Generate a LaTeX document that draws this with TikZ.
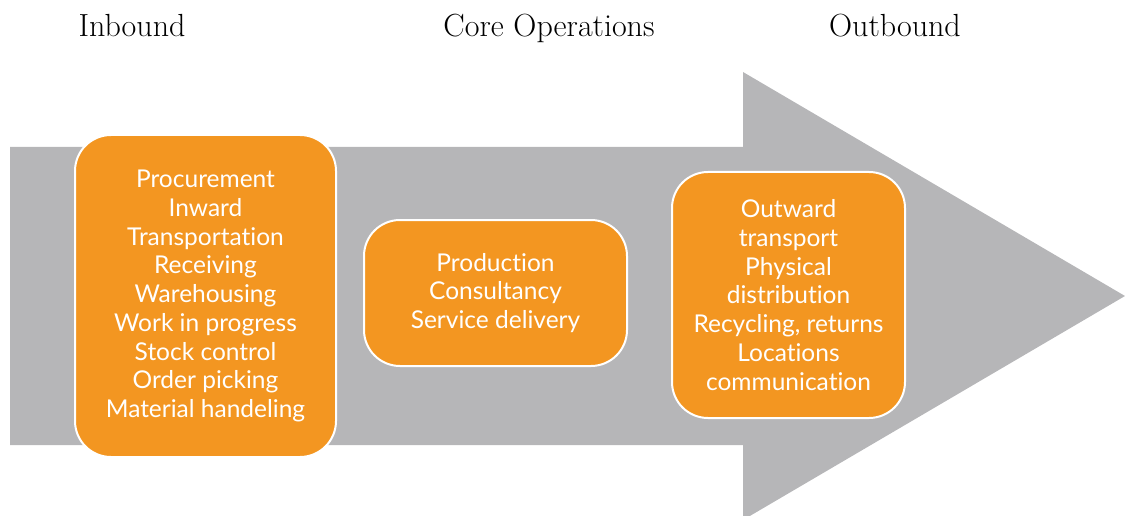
\documentclass[tikz,border=0pt]{standalone}
\usepackage{fontspec}
\setsansfont{Lato}[Ligatures=NoCommon]
\usetikzlibrary{positioning}
\definecolor{boxorange}{RGB}{243,150,33}
\definecolor{arrowgray}{RGB}{182,182,184}
\tikzset{
  stagebox/.style={draw=white, line width=2pt, fill=boxorange, rounded corners=36pt,
    align=center, text=white, inner sep=0pt,
    font=\sffamily\fontsize{24.5}{28.75}\selectfont},
  stagetitle/.style={anchor=base, text=black, font=\fontsize{32}{38}\selectfont}
}

\begin{document}
\begin{tikzpicture}[x=1pt,y=-1pt]
\useasboundingbox (0,0) rectangle (1125,516);

% big grey arrow
\fill[arrowgray] (10,147) -- (743,147) -- (743,72) -- (1125,296)
  -- (743,520) -- (743,445) -- (10,445) -- cycle;

% titles
\node[stagetitle] (InTitle) at (132,37) {Inbound};
\node[stagetitle] (CoreTitle) at (549,37) {Core Operations};
\node[stagetitle] (OutTitle) at (895,37) {Outbound};

% stages
\node[stagebox, minimum width=261pt, minimum height=322pt] (In) at (205.5,296)
  {Procurement\\Inward\\Transportation\\Receiving\\Warehousing\\Work in progress\\Stock control\\Order picking\\Material handeling};
\node[stagebox, minimum width=263pt, minimum height=146pt] (Core) at (495.5,293)
  {Production\\Consultancy\\Service delivery};
\node[stagebox, minimum width=233pt, minimum height=246pt] (Out) at (788.5,295)
  {Outward\\transport\\Physical\\distribution\\Recycling, returns\\Locations\\communication};

\end{tikzpicture}
\end{document}
